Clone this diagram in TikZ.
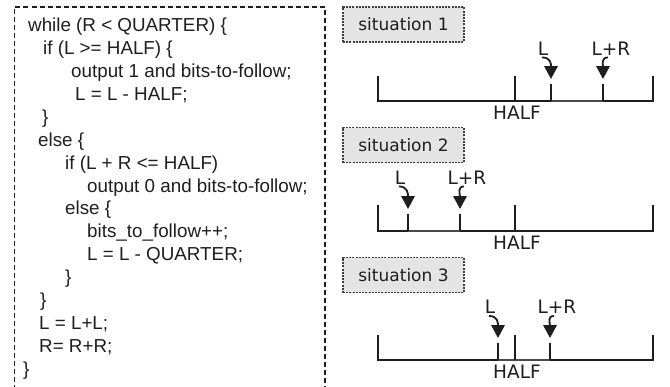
\documentclass[tikz,border=0pt]{standalone}
\usepackage{fontspec}
\setmainfont{Liberation Sans}
\newfontfamily\dejavu{DejaVu Sans}
\usetikzlibrary{arrows.meta}
\definecolor{ink}{HTML}{1E1E1E}
\definecolor{boxfill}{HTML}{E4E4E4}
\definecolor{segc}{HTML}{4A4A4A}
\begin{document}
\begin{tikzpicture}[x=1pt,y=-1pt,
  code/.style={anchor=base west, inner sep=0pt, text=ink, font=\fontsize{18.8}{22}\selectfont},
  sitbox/.style={draw=ink!85, dash pattern=on 2pt off 1.2pt, line width=1.1pt, fill=boxfill,
    minimum width=121pt, minimum height=35pt, inner sep=0pt, text=ink,
    font=\dejavu\fontsize{17}{20}\selectfont},
  lab/.style={inner sep=0pt, text=ink, font=\dejavu\fontsize{18.5}{20}\selectfont},
  axisline/.style={draw=ink, line width=2.2pt},
  seg/.style={draw=segc, line width=1.5pt},
  smalltick/.style={draw=ink, line width=1.6pt},
  arr/.style={draw=ink, line width=1.8pt, -{Triangle[length=13pt,width=13.5pt]}},
  frame/.style={draw=ink, line width=1.3pt, dash pattern=on 5pt off 3pt}
]
\useasboundingbox (0,0) rectangle (670,386);

% code frame
\draw[frame] (14.5,390) -- (14.5,7) -- (325,7) -- (325,390);

% code lines
\node[code] (c1)  at (28,31.7)  {while (R < QUARTER) \{};
\node[code] (c2)  at (43,54.6)  {if (L >= HALF) \{};
\node[code] (c3)  at (71,77.5)  {output 1 and bits-to-follow;};
\node[code] (c4)  at (75,100.4) {L = L - HALF;};
\node[code] (c5)  at (42,123.3) {\}};
\node[code] (c6)  at (38,146.2) {else \{};
\node[code] (c7)  at (65,169.1) {if (L + R <= HALF)};
\node[code] (c8)  at (87,192.0) {output 0 and bits-to-follow;};
\node[code] (c9)  at (65,214.9) {else \{};
\node[code] (c10) at (87,237.8) {bits\_to\_follow++;};
\node[code] (c11) at (87,260.7) {L = L - QUARTER;};
\node[code] (c12) at (65,283.6) {\}};
\node[code] (c13) at (40,306.5) {\}};
\node[code] (c14) at (39,329.4) {L = L+L;};
\node[code] (c15) at (39,352.3) {R= R+R;};
\node[code] (c16) at (23,375.2) {\}};

% ---------- situation 1 ----------
\node[sitbox] (s1) at (403.5,24.5) {situation 1};
\draw[axisline] (378,76) -- (378,101) -- (551,101);
\draw[axisline] (603,101) -- (653,101) -- (653,76);
\draw[seg] (551,101) -- (603,101);
\draw[axisline] (515,76) -- (515,101);
\draw[smalltick] (551,84) -- (551,101);
\draw[smalltick] (603,84) -- (603,101);
\node[lab] (h1) at (517,113) {HALF};
\node[lab] (l1) at (543,48.5) {L};
\node[lab] (r1) at (611,48.5) {L+R};
\coordinate (tl1) at (551,79);
\coordinate (tr1) at (603,79);
\draw[arr] ([shift={(-1,2)}]l1.south) .. controls +(9,0) and +(0,-15) .. (tl1);
\draw[arr] ([shift={(-3,2)}]r1.south) .. controls +(-7,0) and +(0,-15) .. (tr1);

% ---------- situation 2 ----------
\node[sitbox] (s2) at (403.5,145) {situation 2};
\draw[axisline] (378,205) -- (378,231) -- (408,231);
\draw[axisline] (460,231) -- (653,231) -- (653,205);
\draw[seg] (408,231) -- (460,231);
\draw[axisline] (515,205) -- (515,231);
\draw[smalltick] (408,214) -- (408,231);
\draw[smalltick] (460,214) -- (460,231);
\node[lab] (h2) at (517,243) {HALF};
\node[lab] (l2) at (400,177.5) {L};
\node[lab] (r2) at (467,177.5) {L+R};
\coordinate (tl2) at (408,209);
\coordinate (tr2) at (460,209);
\draw[arr] ([shift={(-1,2)}]l2.south) .. controls +(9,0) and +(0,-15) .. (tl2);
\draw[arr] ([shift={(-3,2)}]r2.south) .. controls +(-7,0) and +(0,-15) .. (tr2);

% ---------- situation 3 ----------
\node[sitbox] (s3) at (403.5,275) {situation 3};
\draw[axisline] (378,335) -- (378,360) -- (498,360);
\draw[axisline] (550,360) -- (653,360) -- (653,335);
\draw[seg] (498,360) -- (550,360);
\draw[axisline] (515,335) -- (515,360);
\draw[smalltick] (498,343) -- (498,360);
\draw[smalltick] (550,343) -- (550,360);
\node[lab] (h3) at (517,372) {HALF};
\node[lab] (l3) at (490,307) {L};
\node[lab] (r3) at (557,307) {L+R};
\coordinate (tl3) at (498,338);
\coordinate (tr3) at (550,338);
\draw[arr] ([shift={(-1,2)}]l3.south) .. controls +(9,0) and +(0,-15) .. (tl3);
\draw[arr] ([shift={(-3,2)}]r3.south) .. controls +(-7,0) and +(0,-15) .. (tr3);
\end{tikzpicture}
\end{document}
